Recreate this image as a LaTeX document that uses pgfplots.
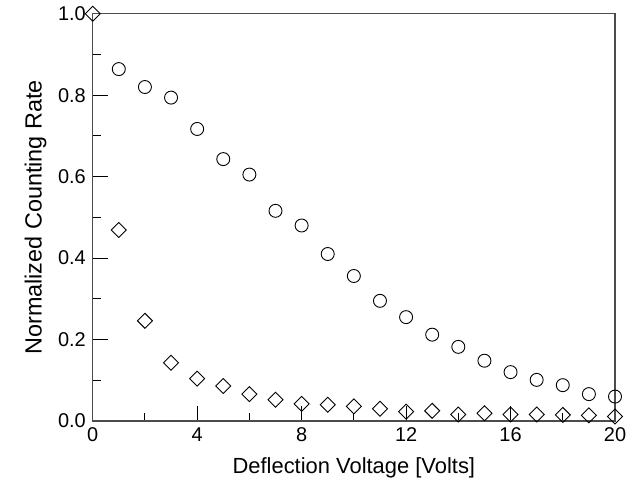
\documentclass[border=0pt]{standalone}
\usepackage{fontspec}
\setmainfont{Liberation Sans}
\usepackage{pgfplots}
\pgfplotsset{compat=1.18}
\begin{document}
\begin{tikzpicture}
\begin{axis}[
  scale only axis,
  width=522.3bp, height=407.3bp,
  xmin=0, xmax=20, ymin=0, ymax=1,
  xtick={0,4,8,12,16,20},
  ytick={0,0.2,0.4,0.6,0.8,1.0},
  minor x tick num=1,
  minor y tick num=1,
  tick align=inside,
  tick pos=left,
  major tick length=15bp,
  minor tick length=8bp,
  every tick/.style={black, line width=0.9bp},
  axis line style={black!70, line width=1.1bp},
  axis on top,
  /pgf/number format/assume math mode=true,
  yticklabel style={/pgf/number format/fixed, /pgf/number format/fixed zerofill, /pgf/number format/precision=1},
  ticklabel style={font=\fontsize{20}{24}\selectfont, inner sep=0pt},
  xticklabel style={anchor=base, yshift=-20.7bp},
  yticklabel style={anchor=east, xshift=-6.7bp},
  xlabel={Deflection Voltage [Volts]},
  ylabel={Normalized Counting Rate},
  every axis x label/.style={at={([yshift=-52.3bp]axis description cs:0.5,0)}, anchor=base, inner sep=0pt, font=\fontsize{22}{26}\selectfont},
  every axis y label/.style={at={([xshift=-46bp]axis description cs:0,0.5)}, rotate=90, anchor=south, inner sep=0pt, font=\fontsize{23.5}{28}\selectfont},
  clip=false,
]
\addplot[only marks, mark=o, mark size=6.5bp, black, line width=0.9bp] coordinates {
(1,0.864) (2,0.820) (3,0.794) (4,0.717) (5,0.643) (6,0.605) (7,0.516) (8,0.480)
(9,0.410) (10,0.356) (11,0.295) (12,0.255) (13,0.212) (14,0.182) (15,0.148)
(16,0.120) (17,0.101) (18,0.088) (19,0.066) (20,0.060)
};
\addplot[only marks, mark=square, mark size=5.3bp, mark options={rotate=45}, black, line width=0.9bp] coordinates {
(0,1.0) (1,0.469) (2,0.246) (3,0.143) (4,0.104) (5,0.086) (6,0.066) (7,0.052)
(8,0.042) (9,0.040) (10,0.036) (11,0.030) (12,0.023) (13,0.025) (14,0.016)
(15,0.019) (16,0.016) (17,0.016) (18,0.015) (19,0.014) (20,0.011)
};
\end{axis}
\pgfresetboundingbox
\path (current axis.south west) ++(-92.7bp,-62bp) rectangle ++(635bp,483bp);
\end{tikzpicture}
\end{document}
